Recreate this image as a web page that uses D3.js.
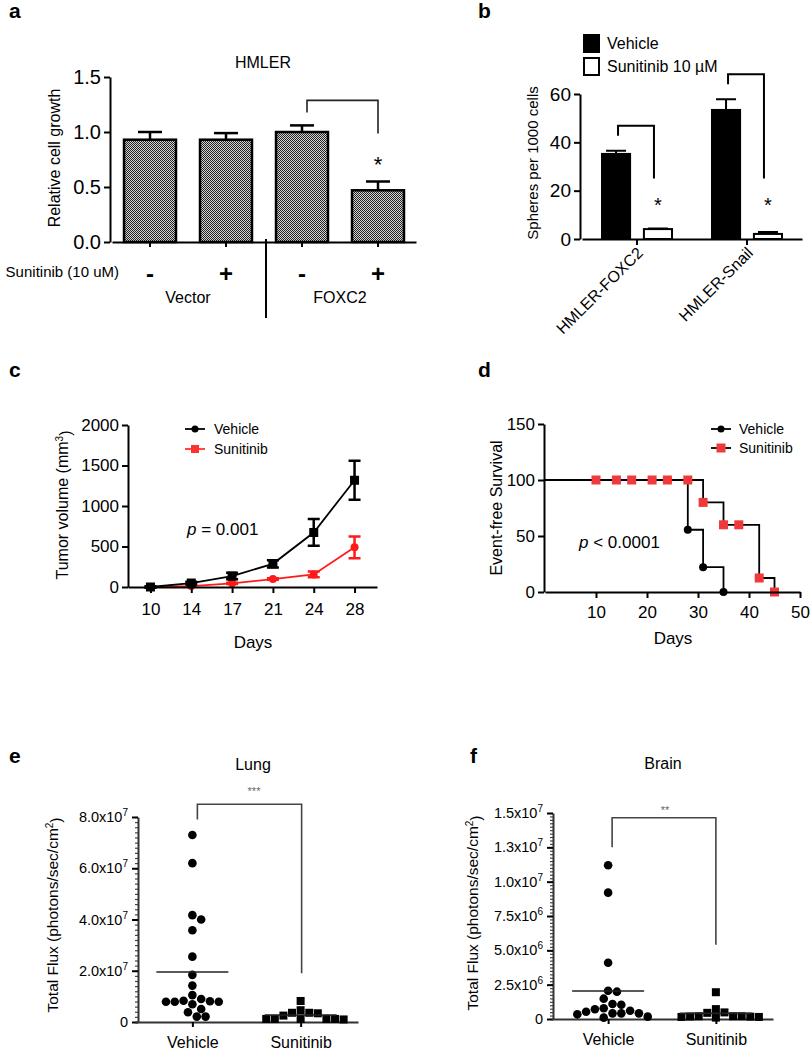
<!DOCTYPE html>
<html>
<head>
<meta charset="utf-8">
<script src="https://cdn.jsdelivr.net/npm/d3@7"></script>
<style>
  body { margin: 0; background: #fff; }
  svg { display: block; font-family: "Liberation Sans", Arial, sans-serif; }
</style>
</head>
<body>
<svg id="fig" width="812" height="1050"></svg>
<script>
// ---- data ----
// a: HMLER relative growth
const growthGroups = ['Vector', 'Vector', 'FOXC2', 'FOXC2'];
const growthDrug = ['-', '+', '-', '+'];
const growthMean = [0.93, 0.93, 1.0, 0.47];
const growthErr = [0.07, 0.06, 0.06, 0.08];

// b: spheres per 1000 cells
const sphereLines = ['HMLER-FOXC2', 'HMLER-Snail'];
const sphereVehicle = [35.2, 53.4];
const sphereVehicleErr = [1.3, 4.4];
const sphereSunitinib = [4.1, 2.1];
const sphereSunitinibErr = [0.2, 0.8];

// c: tumor volume
const tumorDays = [10, 14, 17, 21, 24, 28];
const tumorVehicle = [0, 49, 135, 286, 673, 1318];
const tumorVehicleErr = [8, 15, 40, 45, 165, 240];
const tumorSunitinib = [0, 12, 45, 98, 155, 490];
const tumorSunitinibErr = [4, 5, 8, 10, 35, 135];

// d: event-free survival
const survVehicleDays = [0, 28, 31, 35];
const survVehicle = [100, 55.6, 22.2, 0];
const survSunitinibDays = [0, 31, 35, 42, 45];
const survSunitinib = [100, 80, 60, 12.5, 0];
const markVehicleDays = [28, 31, 35];
const markVehicle = [55.6, 22.2, 0];
const markSunitinibDays = [10, 14, 17, 21, 24, 28, 31, 35, 38, 42, 45];
const markSunitinib = [100, 100, 100, 100, 100, 100, 80, 60, 60, 12.5, 0];

// e: lung flux (photons/sec/cm2)
const fluxGroups = ['Vehicle', 'Sunitinib'];
const lungVehicle = [7.3e7, 6.2e7, 4.17e7, 4.0e7, 3.58e7, 2.55e7, 1.84e7, 1.42e7, 1.05e7,
  0.9e7, 0.83e7, 0.81e7, 0.79e7, 0.79e7, 0.79e7, 0.69e7, 0.51e7, 0.38e7, 0.21e7, 0.21e7];
const lungSunitinib = [0.82e7, 0.46e7, 0.36e7, 0.36e7, 0.34e7, 0.25e7,
  0.12e7, 0.12e7, 0.12e7, 0.12e7, 0.12e7, 0.1e7];

// f: brain flux
const brainVehicle = [11.2e6, 9.2e6, 4.1e6, 2.06e6, 1.99e6, 1.48e6, 1.09e6, 1.04e6, 0.78e6,
  0.71e6, 0.6e6, 0.53e6, 0.41e6, 0.41e6, 0.41e6, 0.34e6, 0.17e6, 0.1e6];
const brainSunitinib = [1.95e6, 0.72e6, 0.48e6, 0.45e6, 0.2e6, 0.2e6, 0.2e6,
  0.18e6, 0.17e6, 0.15e6, 0.15e6, 0.1e6];

const RED = '#f03a3a';
const svg = d3.select('#fig');

function styleAxis(g, size, sw = 2) {
  g.attr('font-family', null).attr('font-size', size);
  g.select('.domain').attr('stroke-width', sw);
  g.selectAll('.tick line').attr('stroke-width', sw);
  g.selectAll('.tick text').attr('fill', '#000');
}

function addText(x, y, s, size, anchor = 'middle') {
  return svg.append('text')
    .attr('x', x).attr('y', y)
    .attr('font-size', size)
    .attr('text-anchor', anchor)
    .text(s);
}

function yLabel(x, y, s, size) {
  return svg.append('text')
    .attr('transform', `translate(${x},${y}) rotate(-90)`)
    .attr('dy', '0.35em')
    .attr('font-size', size)
    .attr('text-anchor', 'middle')
    .text(s);
}

// panel letters
[['a', 9, 18], ['b', 478, 18], ['c', 9, 377], ['d', 478, 377], ['e', 9, 763], ['f', 470, 763]]
  .forEach(([l, x, y]) => addText(x, y, l, 21, 'start').attr('font-weight', 'bold'));

// ===== a =====
const defs = svg.append('defs');
const pat = defs.append('pattern')
  .attr('id', 'checker')
  .attr('width', 2).attr('height', 2)
  .attr('patternUnits', 'userSpaceOnUse');
pat.append('rect').attr('width', 2).attr('height', 2).attr('fill', '#d4d4d4');
pat.append('rect').attr('width', 1).attr('height', 1).attr('fill', '#222');
pat.append('rect').attr('x', 1).attr('y', 1).attr('width', 1).attr('height', 1).attr('fill', '#222');

const ya = d3.scaleLinear().domain([0, 1.5]).range([242, 77]);
const xa = d3.scaleBand()
  .domain(d3.range(growthMean.length))
  .range([112, 416])
  .paddingInner(0.316)
  .paddingOuter(0.158);
const ca = (i) => xa(i) + xa.bandwidth() / 2;

const gA = svg.append('g');
gA.selectAll('line.err')
  .data(growthMean)
  .join('line')
  .attr('class', 'err')
  .attr('x1', (d, i) => ca(i)).attr('x2', (d, i) => ca(i))
  .attr('y1', (d) => ya(d))
  .attr('y2', (d, i) => ya(d + growthErr[i]))
  .attr('stroke', '#000').attr('stroke-width', 2.5);
gA.selectAll('line.cap')
  .data(growthMean)
  .join('line')
  .attr('class', 'cap')
  .attr('x1', (d, i) => ca(i) - 12).attr('x2', (d, i) => ca(i) + 12)
  .attr('y1', (d, i) => ya(d + growthErr[i]))
  .attr('y2', (d, i) => ya(d + growthErr[i]))
  .attr('stroke', '#000').attr('stroke-width', 2.5);
gA.selectAll('rect')
  .data(growthMean)
  .join('rect')
  .attr('x', (d, i) => xa(i))
  .attr('width', xa.bandwidth())
  .attr('y', (d) => ya(d))
  .attr('height', (d) => ya(0) - ya(d))
  .attr('fill', 'url(#checker)')
  .attr('stroke', '#000')
  .attr('stroke-width', 2.5);

svg.append('g')
  .attr('transform', 'translate(110,0)')
  .call(d3.axisLeft(ya).tickValues([0, 0.5, 1, 1.5]).tickFormat(d3.format('.1f')).tickSize(6).tickSizeOuter(0).tickPadding(3))
  .call((g) => styleAxis(g, 20));

svg.append('g')
  .attr('transform', 'translate(0,242)')
  .call(d3.axisBottom(xa).tickSize(5).tickSizeOuter(0).tickPadding(18).tickFormat((i) => growthDrug[i]))
  .call((g) => styleAxis(g, 24))
  .call((g) => g.selectAll('.tick text').attr('font-weight', 'bold'));

yLabel(54, 158, 'Relative cell growth', 16);
addText(263, 68, 'HMLER', 16);
addText(119, 277, 'Sunitinib (10 uM)', 15, 'end');

d3.groups(d3.range(growthGroups.length), (i) => growthGroups[i]).forEach(([name, idx]) => {
  addText(d3.mean(idx, ca), 303, name, 16);
});

// separator between groups
const sepX = (xa(1) + xa.bandwidth() + xa(2)) / 2 + 2;
svg.append('line')
  .attr('x1', sepX).attr('x2', sepX)
  .attr('y1', 239).attr('y2', 318)
  .attr('stroke', '#000').attr('stroke-width', 2);

// significance bracket FOXC2 - vs +
{
  const bottomL = ya(growthMean[2] + growthErr[2]) - 13;
  const top = bottomL - 12;
  svg.append('path')
    .attr('d', `M${ca(2) + 5},${bottomL}V${top}H${ca(3)}V${top + 33}`)
    .attr('fill', 'none').attr('stroke', '#222').attr('stroke-width', 1.6);
  addText(ca(3), 172, '*', 22);
}

// ===== b =====
const yb = d3.scaleLinear().domain([0, 60]).range([239, 94]);
const xb = d3.scaleBand().domain(sphereLines).range([582, 802]);
const xbInner = d3.scaleBand().domain(['Vehicle', 'Sunitinib']).range([-35, 35]).paddingInner(0.33);
const sphereRows = sphereLines.flatMap((line, i) => [
  { line, key: 'Vehicle', v: sphereVehicle[i], e: sphereVehicleErr[i] },
  { line, key: 'Sunitinib', v: sphereSunitinib[i], e: sphereSunitinibErr[i] },
]);
const cbGroup = (line) => xb(line) + xb.bandwidth() / 2;
const cb = (d) => cbGroup(d.line) + xbInner(d.key) + xbInner.bandwidth() / 2;

const gB = svg.append('g');
gB.selectAll('path.err')
  .data(sphereRows)
  .join('path')
  .attr('class', 'err')
  .attr('d', (d) => `M${cb(d)},${yb(d.v)}V${yb(d.v + d.e)}M${cb(d) - 10},${yb(d.v + d.e)}H${cb(d) + 10}`)
  .attr('stroke', '#000').attr('stroke-width', 2).attr('fill', 'none');
gB.selectAll('rect')
  .data(sphereRows)
  .join('rect')
  .attr('x', (d) => cbGroup(d.line) + xbInner(d.key))
  .attr('width', xbInner.bandwidth())
  .attr('y', (d) => yb(d.v))
  .attr('height', (d) => yb(0) - yb(d.v))
  .attr('fill', (d) => (d.key === 'Vehicle' ? '#000' : '#fff'))
  .attr('stroke', '#000')
  .attr('stroke-width', 2);

svg.append('g')
  .attr('transform', 'translate(580,0)')
  .call(d3.axisLeft(yb).tickValues([0, 20, 40, 60]).tickSize(6).tickSizeOuter(0).tickPadding(3))
  .call((g) => styleAxis(g, 19));

svg.append('g')
  .attr('transform', 'translate(0,239)')
  .call(d3.axisBottom(xb).tickSize(6).tickSizeOuter(0))
  .call((g) => styleAxis(g, 16))
  .call((g) => g.selectAll('.tick text')
    .attr('x', 0).attr('y', 0).attr('dy', 0)
    .attr('text-anchor', 'end')
    .attr('transform', 'translate(7,15) rotate(-45)'));

yLabel(533, 163, 'Spheres per 1000 cells', 15);

// legend b
[['Vehicle', '#000', 35], ['Sunitinib 10 \u00b5M', '#fff', 58]].forEach(([name, fill, y]) => {
  svg.append('rect').attr('x', 584).attr('y', y).attr('width', 15).attr('height', 17)
    .attr('fill', fill).attr('stroke', '#000').attr('stroke-width', 2);
  addText(607, y + 14, name, 16, 'start');
});

// brackets b
sphereLines.forEach((line, i) => {
  const vx = cb(sphereRows[2 * i]) + 2;
  const sx = cb(sphereRows[2 * i + 1]) - 4;
  const bottomL = yb(sphereVehicle[i] + sphereVehicleErr[i]) - 15;
  const top = bottomL - 10;
  svg.append('path')
    .attr('d', `M${vx},${bottomL}V${top}H${sx}V${yb(25)}`)
    .attr('fill', 'none').attr('stroke', '#000').attr('stroke-width', 2);
  addText(sx + 4, 212, '*', 20);
});

// ===== c =====
const yc = d3.scaleLinear().domain([0, 2000]).range([587, 425]);
const xc = d3.scalePoint().domain(tumorDays).range([128, 377]).padding(0.55);
const lineC = d3.line().x((d, i) => xc(tumorDays[i])).y((d) => yc(d));

function drawTumor(values, errs, color, marker) {
  const g = svg.append('g');
  g.append('path').attr('d', lineC(values)).attr('fill', 'none').attr('stroke', color).attr('stroke-width', 1.8);
  g.selectAll('path.err')
    .data(values)
    .join('path')
    .attr('class', 'err')
    .attr('d', (d, i) => {
      const x = xc(tumorDays[i]);
      const y0 = yc(d - errs[i]);
      const y1 = yc(d + errs[i]);
      return `M${x},${y0}V${y1}M${x - 6},${y0}H${x + 6}M${x - 6},${y1}H${x + 6}`;
    })
    .attr('stroke', color).attr('stroke-width', 2.5).attr('fill', 'none');
  if (marker === 'square') {
    g.selectAll('rect')
      .data(values)
      .join('rect')
      .attr('x', (d, i) => xc(tumorDays[i]) - 4.5)
      .attr('y', (d) => yc(d) - 4.5)
      .attr('width', 9).attr('height', 9)
      .attr('fill', color);
  } else {
    g.selectAll('circle')
      .data(values)
      .join('circle')
      .attr('cx', (d, i) => xc(tumorDays[i]))
      .attr('cy', (d) => yc(d))
      .attr('r', 4)
      .attr('fill', color);
  }
}
drawTumor(tumorSunitinib, tumorSunitinibErr, '#ff1a1a', 'circle');
drawTumor(tumorVehicle, tumorVehicleErr, '#000', 'square');

svg.append('g')
  .attr('transform', 'translate(128,0)')
  .call(d3.axisLeft(yc).tickValues([0, 500, 1000, 1500, 2000]).tickFormat(d3.format('d')).tickSize(6).tickSizeOuter(0).tickPadding(3))
  .call((g) => styleAxis(g, 17));
svg.append('g')
  .attr('transform', 'translate(0,587)')
  .call(d3.axisBottom(xc).tickSize(6).tickSizeOuter(0).tickPadding(10))
  .call((g) => styleAxis(g, 17));

svg.append('text')
  .attr('transform', 'translate(62,505) rotate(-90)')
  .attr('dy', '0.35em')
  .attr('font-size', 16)
  .attr('text-anchor', 'middle')
  .call((t) => {
    t.append('tspan').text('Tumor volume (mm');
    t.append('tspan').attr('dy', '-0.5em').attr('font-size', 10).text('3');
    t.append('tspan').attr('dy', '0.5em').text(')');
  });
addText(253, 648, 'Days', 17);
svg.append('text')
  .attr('x', 187).attr('y', 535).attr('font-size', 17)
  .call((t) => {
    t.append('tspan').attr('font-style', 'italic').text('p');
    t.append('tspan').text(' = 0.001');
  });

// legend c
[['Vehicle', '#000', 'circle', 429], ['Sunitinib', '#ff3030', 'square', 449]].forEach(([name, color, m, y]) => {
  svg.append('line').attr('x1', 185).attr('x2', 205).attr('y1', y).attr('y2', y)
    .attr('stroke', color).attr('stroke-width', 1.8);
  if (m === 'circle') svg.append('circle').attr('cx', 195).attr('cy', y).attr('r', 3.5).attr('fill', color);
  else svg.append('rect').attr('x', 191).attr('y', y - 4).attr('width', 8).attr('height', 8).attr('fill', color);
  addText(214, y + 5, name, 14, 'start');
});

// ===== d =====
const yd = d3.scaleLinear().domain([0, 150]).range([592, 424]);
const xd = d3.scaleLinear().domain([0, 50]).range([545, 800]);
const stepLine = d3.line().curve(d3.curveStepAfter);

svg.append('path')
  .attr('d', stepLine(survVehicleDays.map((t, i) => [xd(t), yd(survVehicle[i])])))
  .attr('fill', 'none').attr('stroke', '#000').attr('stroke-width', 1.8);
svg.append('path')
  .attr('d', stepLine(survSunitinibDays.map((t, i) => [xd(t), yd(survSunitinib[i])])))
  .attr('fill', 'none').attr('stroke', '#000').attr('stroke-width', 1.8);

svg.append('g').selectAll('circle')
  .data(markVehicle)
  .join('circle')
  .attr('cx', (d, i) => xd(markVehicleDays[i]))
  .attr('cy', (d) => yd(d))
  .attr('r', 4)
  .attr('fill', '#000');
svg.append('g').selectAll('rect')
  .data(markSunitinib)
  .join('rect')
  .attr('x', (d, i) => xd(markSunitinibDays[i]) - 4.5)
  .attr('y', (d) => yd(d) - 4.5)
  .attr('width', 9).attr('height', 9)
  .attr('fill', RED);

svg.append('g')
  .attr('transform', 'translate(544,0)')
  .call(d3.axisLeft(yd).tickValues([0, 50, 100, 150]).tickSize(6).tickSizeOuter(0).tickPadding(3))
  .call((g) => styleAxis(g, 17));
svg.append('g')
  .attr('transform', 'translate(0,592)')
  .call(d3.axisBottom(xd).tickValues([10, 20, 30, 40, 50]).tickSize(6).tickSizeOuter(0).tickPadding(8))
  .call((g) => styleAxis(g, 17));

yLabel(496, 508, 'Event-free Survival', 16);
addText(673, 644, 'Days', 17);
svg.append('text')
  .attr('x', 579).attr('y', 548).attr('font-size', 17)
  .call((t) => {
    t.append('tspan').attr('font-style', 'italic').text('p');
    t.append('tspan').text(' < 0.0001');
  });

[['Vehicle', '#000', 'circle', 429], ['Sunitinib', RED, 'square', 448]].forEach(([name, color, m, y]) => {
  svg.append('line').attr('x1', 711).attr('x2', 731).attr('y1', y).attr('y2', y)
    .attr('stroke', '#000').attr('stroke-width', 1.8);
  if (m === 'circle') svg.append('circle').attr('cx', 721).attr('cy', y).attr('r', 3.5).attr('fill', color);
  else svg.append('rect').attr('x', 716.5).attr('y', y - 4.5).attr('width', 9).attr('height', 9).attr('fill', color);
  addText(739, y + 5, name, 14, 'start');
});

// ===== e / f =====
// simple swarm: place each point at the nearest free half-slot from the column centre
function swarm(values, y, cx, d) {
  const placed = [];
  values.forEach((v) => {
    const py = y(v);
    for (let k = 0; k < 60; k++) {
      const off = (k % 2 ? 1 : -1) * Math.ceil(k / 2) * d / 2;
      const px = cx + off;
      const hit = placed.some((p) => (p.x - px) ** 2 + (p.y - py) ** 2 < (d * 0.98) ** 2);
      if (!hit) { placed.push({ v, x: px, y: py }); break; }
    }
  });
  return placed;
}

function sciTicks(g, expOf) {
  g.selectAll('.tick text').each(function (d) {
    if (d === 0) return;
    const t = d3.select(this);
    const p = expOf(d);
    t.text(null);
    t.append('tspan').text((d / 10 ** p).toFixed(1) + 'x10');
    t.append('tspan').attr('dy', '-0.6em').attr('font-size', 10).text(p);
  });
}

function fluxLabel(x, y) {
  svg.append('text')
    .attr('transform', `translate(${x},${y}) rotate(-90)`)
    .attr('dy', '0.35em')
    .attr('font-size', 15.5)
    .attr('text-anchor', 'middle')
    .call((t) => {
      t.append('tspan').text('Total Flux (photons/sec/cm');
      t.append('tspan').attr('dy', '-0.5em').attr('font-size', 10).text('2');
      t.append('tspan').attr('dy', '0.5em').text(')');
    });
}

function fluxPanel(opts) {
  const { y, x, axisX, axisY, vehicle, sunitinib, majors, minorStep, expOf } = opts;
  // minor ticks
  svg.append('g')
    .attr('transform', `translate(${axisX},0)`)
    .call(d3.axisLeft(y).tickValues(d3.range(0, y.domain()[1] + 1, minorStep)).tickSize(3).tickFormat(''))
    .call((g) => { g.select('.domain').remove(); g.selectAll('line').attr('stroke', '#444').attr('stroke-width', 1.2); });
  svg.append('g')
    .attr('transform', `translate(${axisX},0)`)
    .call(d3.axisLeft(y).tickValues(majors).tickSize(6).tickSizeOuter(0).tickPadding(4).tickFormat((d) => (d === 0 ? '0' : d)))
    .call((g) => styleAxis(g, 14.5))
    .call((g) => g.select('.domain').attr('stroke', '#333'))
    .call((g) => sciTicks(g, expOf));
  svg.append('g')
    .attr('transform', `translate(0,${axisY})`)
    .call(d3.axisBottom(x).tickSize(5).tickSizeOuter(0).tickPadding(10))
    .call((g) => styleAxis(g, 16))
    .call((g) => g.select('.domain').attr('stroke', '#333'));

  const vx = x('Vehicle');
  const sx = x('Sunitinib');
  svg.append('g').selectAll('circle')
    .data(swarm(vehicle, y, vx, 8.8))
    .join('circle')
    .attr('cx', (d) => d.x).attr('cy', (d) => d.y).attr('r', 4.3)
    .attr('fill', '#000');
  svg.append('g').selectAll('rect')
    .data(swarm(sunitinib, y, sx, 8.6))
    .join('rect')
    .attr('x', (d) => d.x - 4).attr('y', (d) => d.y - 4)
    .attr('width', 8).attr('height', 8)
    .attr('fill', '#000');

  [[vehicle, vx], [sunitinib, sx]].forEach(([vals, cx]) => {
    const m = y(d3.mean(vals));
    svg.append('line')
      .attr('x1', cx - 36).attr('x2', cx + 36)
      .attr('y1', m).attr('y2', m)
      .attr('stroke', '#222').attr('stroke-width', 1.6);
  });
}

const ye = d3.scaleLinear().domain([0, 8e7]).range([1022, 817]);
const xe = d3.scalePoint().domain(fluxGroups).range([135, 358]).padding(0.53);
fluxPanel({
  y: ye, x: xe, axisX: 138, axisY: 1022,
  vehicle: lungVehicle, sunitinib: lungSunitinib,
  majors: [0, 2e7, 4e7, 6e7, 8e7], minorStep: 2e6,
  expOf: () => 7,
});
fluxLabel(53, 915);
addText(253, 770, 'Lung', 16);
addText(254, 795, '***', 11).attr('fill', '#666');
svg.append('path')
  .attr('d', `M${xe('Vehicle') + 5},${ye(7.9e7)}V${ye(8.5e7)}H${xe('Sunitinib') + 1}V${ye(1.9e7)}`)
  .attr('fill', 'none').attr('stroke', '#444').attr('stroke-width', 1.6);

const yf = d3.scaleLinear().domain([0, 1.5e7]).range([1019, 813]);
const xf = d3.scalePoint().domain(fluxGroups).range([551, 773]).padding(0.53);
fluxPanel({
  y: yf, x: xf, axisX: 553, axisY: 1019,
  vehicle: brainVehicle, sunitinib: brainSunitinib,
  majors: [0, 2.5e6, 5e6, 7.5e6, 1e7, 1.25e7, 1.5e7], minorStep: 2.5e5,
  expOf: (d) => (d < 1e7 ? 6 : 7),
});
fluxLabel(473, 913);
addText(663, 769, 'Brain', 16);
addText(665, 814, '**', 11).attr('fill', '#666');
svg.append('path')
  .attr('d', `M${xf('Vehicle') + 4},${yf(1.25e7)}V${yf(1.465e7)}H${xf('Sunitinib')}V${yf(5.4e6)}`)
  .attr('fill', 'none').attr('stroke', '#444').attr('stroke-width', 1.6);
</script>
</body>
</html>
